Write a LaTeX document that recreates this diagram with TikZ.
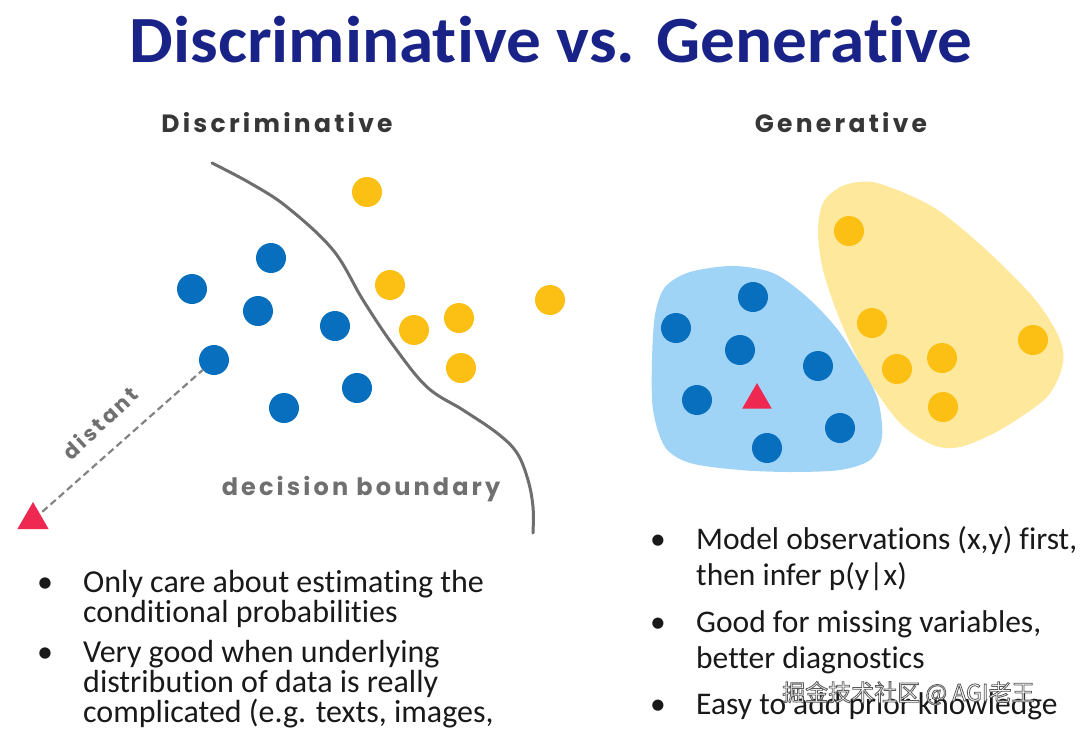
\documentclass[tikz,border=0pt]{standalone}
\usepackage{fontspec}
\setmainfont[Ligatures=NoCommon]{Carlito}
\newfontfamily\geo[LetterSpace=13]{Poppins}
\newfontfamily\cjk{Noto Sans CJK SC}
\definecolor{navy}{RGB}{25,35,135}
\definecolor{dotblue}{RGB}{8,110,190}
\definecolor{dotyel}{RGB}{252,192,20}
\definecolor{blobblue}{RGB}{160,212,247}
\definecolor{blobyel}{RGB}{254,232,155}
\definecolor{tri}{RGB}{238,40,80}
\definecolor{curvegray}{RGB}{110,110,110}
\definecolor{txtgray}{RGB}{112,112,112}
\definecolor{headgray}{RGB}{55,55,55}
\definecolor{bodytxt}{RGB}{25,25,25}
\usetikzlibrary{shapes.geometric}
\tikzset{
  bdot/.style={circle,fill=dotblue,minimum size=30pt,inner sep=0pt},
  ydot/.style={circle,fill=dotyel,minimum size=30pt,inner sep=0pt},
  tripoint/.style={regular polygon,regular polygon sides=3,fill=tri,minimum size=36pt,inner sep=0pt},
  head/.style={font=\geo\bfseries\fontsize{25}{28}\selectfont,text=headgray,anchor=base,inner sep=0pt},
  bullet/.style={font=\fontsize{32}{34}\selectfont,text=bodytxt,anchor=base west,inner sep=0pt},
  rbullet/.style={font=\fontsize{31.5}{34}\selectfont,text=bodytxt,anchor=base west,inner sep=0pt},
}
\begin{document}
\begin{tikzpicture}[x=1pt,y=-1pt]
\useasboundingbox[fill=white] (0,0) rectangle (1080,731);
% title
\node[font=\bfseries\fontsize{66}{70}\selectfont,text=navy,anchor=base,inner sep=0pt,xscale=1.05] (title) at (551,62) {Discriminative vs. Generative};
% headers
\node[head] (hd) at (277,132) {Discriminative};
\node[head] (hg) at (841,132) {Generative};
% decision boundary curve
\draw[curvegray,line width=3pt,line cap=round] plot[smooth,tension=0.6] coordinates {(212,163) (250,183) (287,207) (333,250) (363,300) (393,345) (427,387) (463,410) (497,433) (517,453) (528,480) (533,507) (533,533)};
\node[font=\geo\bfseries\fontsize{24}{26}\selectfont,text=txtgray,anchor=base,inner sep=0pt] (db) at (361,495) {decision boundary};
% left dots
\node[bdot] (b1) at (271,258) {};
\node[bdot] (b2) at (192,289) {};
\node[bdot] (b3) at (258,311) {};
\node[bdot] (b4) at (335,326) {};
\node[bdot] (b5) at (214,360) {};
\node[bdot] (b6) at (357,388) {};
\node[bdot] (b7) at (284,408) {};
\node[ydot] (y1) at (367,192) {};
\node[ydot] (y2) at (390,285) {};
\node[ydot] (y3) at (414,330) {};
\node[ydot] (y4) at (459,318) {};
\node[ydot] (y5) at (461,368) {};
\node[ydot] (y6) at (550,300) {};
\node[tripoint] (t1) at (33,520) {};
\draw[curvegray!85,line width=2.2pt,dash pattern=on 7pt off 4pt,shorten <=3pt] (t1) -- (b5);
\node[font=\geo\bfseries\fontsize{21}{24}\selectfont,text=txtgray,rotate=43,inner sep=0pt] (dist) at (100,423) {distant};
% right blobs
\fill[blobyel] plot[smooth cycle,tension=0.5] coordinates {(818,230) (824,201) (845,185) (877,183) (933,207) (983,247) (1033,297) (1058,335) (1063,363) (1047,397) (1000,430) (960,447) (933,445) (900,423) (867,377) (840,320) (823,270)};
\fill[blobblue] plot[smooth cycle,tension=0.5] coordinates {(652,360) (655,315) (665,287) (690,272) (733,266) (773,273) (807,297) (838,330) (862,368) (878,400) (882,437) (870,460) (840,470) (790,472) (740,470) (690,463) (665,447) (653,410)};
% right dots
\node[bdot] (rb1) at (753,297) {};
\node[bdot] (rb2) at (676,328) {};
\node[bdot] (rb3) at (740,350) {};
\node[bdot] (rb4) at (818,366) {};
\node[bdot] (rb5) at (697,400) {};
\node[bdot] (rb6) at (840,428) {};
\node[bdot] (rb7) at (767,448) {};
\node[ydot] (ry1) at (849,231) {};
\node[ydot] (ry2) at (872,323) {};
\node[ydot] (ry3) at (942,358) {};
\node[ydot] (ry4) at (897,369) {};
\node[ydot] (ry5) at (1033,340) {};
\node[ydot] (ry6) at (943,407) {};
\node[tripoint,minimum size=34pt] (t2) at (757,400) {};
% left bullets
\node[bullet] (lb1) at (37,592) {•};
\node[bullet] (l1) at (83,592) {Only care about estimating the};
\node[bullet] (l2) at (83,622) {conditional probabilities};
\node[bullet] (lb2) at (37,662) {•};
\node[bullet] (l3) at (83,662) {Very good when underlying};
\node[bullet] (l4) at (83,692) {distribution of data is really};
\node[bullet] (l5) at (83,722) {complicated (e.g. texts, images,};
% right bullets
\node[rbullet] (rbl1) at (650,549) {•};
\node[rbullet] (r1) at (696,549) {Model observations (x,y) first,};
\node[rbullet] (r2) at (696,585) {then infer p(y|x)};
\node[rbullet] (rbl2) at (650,632) {•};
\node[rbullet] (r3) at (696,632) {Good for missing variables,};
\node[rbullet] (r4) at (696,668) {better diagnostics};
\node[rbullet] (rbl3) at (650,714) {•};
\node[rbullet] (r5) at (696,714) {Easy to add prior knowledge};
% watermark
\node[font=\cjk\fontsize{23}{25}\selectfont,anchor=base west,inner sep=0pt] (wm) at (782,701) {\color{white}\special{pdf:literal direct 0.35 0.35 0.35 RG 0.8 w 2 Tr}掘金技术社区 @ AGI老王\special{pdf:literal direct 0 Tr}};
\end{tikzpicture}
\end{document}
